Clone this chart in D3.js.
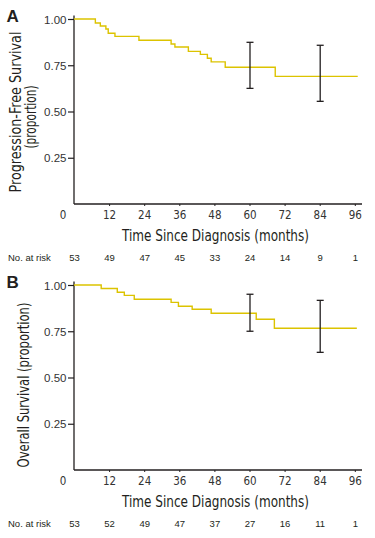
<!DOCTYPE html>
<html>
<head>
<meta charset="utf-8">
<script src="https://cdn.jsdelivr.net/npm/d3@7"></script>
<style>
  body { margin: 0; background: #fff; }
  svg text { font-family: "Liberation Sans Narrow", "DejaVu Sans Condensed", "Liberation Sans", sans-serif; }
</style>
</head>
<body>
<div id="chart"></div>
<script>
//////////
// DATA //
//////////

var riskMonths = [0, 12, 24, 36, 48, 60, 72, 84, 96];
var xTicks = [12, 24, 36, 48, 60, 72, 84, 96];
var yTicks = [0.25, 0.50, 0.75, 1.00];

// progression-free survival, step times (months) and levels
var pfsTimes = [0, 7.3, 9.0, 10.9, 11.7, 14.0, 22.2, 33.2, 34.5, 39.1, 43.2, 45.6, 46.9, 51.7, 68.8, 97.0];
var pfsSurv  = [1, 0.978, 0.962, 0.946, 0.923, 0.906, 0.885, 0.865, 0.849, 0.825, 0.809, 0.788, 0.768, 0.739, 0.690, 0.690];
var pfsCiMonths = [60, 84];
var pfsCiLow  = [0.625, 0.555];
var pfsCiHigh = [0.874, 0.858];
var pfsAtRisk = [53, 49, 47, 45, 33, 24, 14, 9, 1];

// overall survival
var osTimes = [0, 9.3, 14.8, 17.2, 20.6, 33.2, 35.7, 40.4, 46.9, 62.3, 68.5, 96.7];
var osSurv  = [1, 0.981, 0.961, 0.944, 0.923, 0.906, 0.885, 0.869, 0.847, 0.815, 0.766, 0.766];
var osCiMonths = [60, 84];
var osCiLow  = [0.750, 0.636];
var osCiHigh = [0.950, 0.917];
var osAtRisk = [53, 52, 49, 47, 37, 27, 16, 11, 1];

//////////////////////////////
// SVG AND GRAPH DIMENSIONS //
//////////////////////////////

var svgWidth = 375, svgHeight = 538;
var margin = { left: 74 };
var width = 288, height = 185;

var svg = d3.select("#chart").append("svg")
  .attr("width", svgWidth)
  .attr("height", svgHeight);

var x = d3.scaleLinear().domain([0, 96]).range([0, 280.8]);
var y = d3.scaleLinear().domain([0, 1]).range([height, 0]);

var curveColor = "#dcc300";
var inkColor = "#231f20";

var drawPanel = function(opts) {
  var g = svg.append("g")
    .attr("transform", "translate(" + margin.left + "," + opts.top + ")");

  // panel letter
  svg.append("text")
    .attr("x", 6.5)
    .attr("y", opts.top + 3)
    .style("font-family", "'Liberation Sans', Arial, sans-serif")
    .style("font-weight", "bold")
    .style("font-size", "17px")
    .attr("fill", inkColor)
    .text(opts.letter);

  // y axis
  var yAxis = d3.axisLeft(y).tickValues(yTicks).tickSize(6).tickFormat(d3.format(".2f"));
  var gy = g.append("g").call(yAxis);
  gy.select(".domain").remove();
  gy.selectAll(".tick line").attr("stroke", inkColor).attr("stroke-width", 1.2);
  gy.selectAll(".tick text")
    .attr("x", -7.5)
    .attr("dy", "0.35em")
    .style("font-family", "'Liberation Sans', Arial, sans-serif")
    .style("font-size", "11.5px")
    .attr("fill", "#333");
  g.append("line")
    .attr("x1", 0).attr("x2", 0)
    .attr("y1", -3.5).attr("y2", height)
    .attr("stroke", inkColor).attr("stroke-width", 1.3);

  // x axis
  var xAxis = d3.axisBottom(x).tickValues(xTicks).tickSize(2).tickSizeOuter(0);
  var gx = g.append("g")
    .attr("transform", "translate(0," + height + ")")
    .call(xAxis);
  gx.select(".domain").remove();
  gx.selectAll(".tick line").attr("stroke", inkColor).attr("stroke-width", 1);
  gx.selectAll(".tick text")
    .attr("y", 11)
    .attr("dy", "0.32em")
    .style("font-size", "11.5px")
    .attr("fill", "#333");
  gx.append("text")
    .attr("x", -11)
    .attr("y", 11)
    .attr("dy", "0.32em")
    .attr("text-anchor", "middle")
    .style("font-size", "11.5px")
    .attr("fill", "#333")
    .text("0");
  g.append("line")
    .attr("x1", 0).attr("x2", width)
    .attr("y1", height).attr("y2", height)
    .attr("stroke", inkColor).attr("stroke-width", 1.3);

  // axis titles
  g.append("text")
    .attr("x", 141.5)
    .attr("y", height + 37)
    .attr("text-anchor", "middle")
    .attr("textLength", 187)
    .attr("lengthAdjust", "spacingAndGlyphs")
    .style("font-size", "15.5px")
    .attr("fill", inkColor)
    .text("Time Since Diagnosis (months)");

  opts.yTitle.forEach(function(line, i) {
    svg.append("text")
      .attr("transform", "translate(" + line.x + "," + (opts.top + line.cy) + ") rotate(-90)")
      .attr("text-anchor", "middle")
      .attr("textLength", line.len)
      .attr("lengthAdjust", "spacingAndGlyphs")
      .style("font-size", "15.5px")
      .attr("fill", inkColor)
      .text(line.text);
  });

  // number at risk row
  svg.append("text")
    .attr("x", 8)
    .attr("y", opts.top + height + 57)
    .style("font-family", "'Liberation Sans', Arial, sans-serif")
    .style("font-size", "9.5px")
    .attr("fill", inkColor)
    .text("No. at risk");

  g.selectAll(".risk")
    .data(opts.atRisk)
    .enter().append("text")
    .attr("class", "risk")
    .attr("x", function(d, i) { return x(riskMonths[i]) + 0.5; })
    .attr("y", height + 57)
    .attr("text-anchor", "middle")
    .style("font-family", "'Liberation Sans', Arial, sans-serif")
    .style("font-size", "9.5px")
    .attr("fill", inkColor)
    .text(function(d) { return d; });

  // survival curve
  var pts = opts.times.map(function(t, i) { return [t, opts.surv[i]]; });
  var line = d3.line()
    .x(function(d) { return x(d[0]); })
    .y(function(d) { return y(d[1]); })
    .curve(d3.curveStepAfter);

  g.append("path")
    .datum(pts)
    .attr("d", line)
    .attr("fill", "none")
    .attr("stroke", curveColor)
    .attr("stroke-width", 1.4);

  // confidence bars
  var ci = g.selectAll(".ci")
    .data(opts.ciMonths)
    .enter().append("g")
    .attr("class", "ci")
    .attr("stroke", inkColor)
    .attr("stroke-width", 1.3);

  ci.append("line")
    .attr("x1", function(d) { return x(d) + 0.5; })
    .attr("x2", function(d) { return x(d) + 0.5; })
    .attr("y1", function(d, i) { return y(opts.ciHigh[i]); })
    .attr("y2", function(d, i) { return y(opts.ciLow[i]); });
  ci.append("line")
    .attr("x1", function(d) { return x(d) - 3; })
    .attr("x2", function(d) { return x(d) + 4; })
    .attr("y1", function(d, i) { return y(opts.ciHigh[i]); })
    .attr("y2", function(d, i) { return y(opts.ciHigh[i]); });
  ci.append("line")
    .attr("x1", function(d) { return x(d) - 3; })
    .attr("x2", function(d) { return x(d) + 4; })
    .attr("y1", function(d, i) { return y(opts.ciLow[i]); })
    .attr("y2", function(d, i) { return y(opts.ciLow[i]); });
};

drawPanel({
  letter: "A", top: 19,
  times: pfsTimes, surv: pfsSurv,
  ciMonths: pfsCiMonths, ciLow: pfsCiLow, ciHigh: pfsCiHigh,
  atRisk: pfsAtRisk,
  yTitle: [
    { text: "Progression-Free Survival", x: 21, cy: 93, len: 161 },
    { text: "(proportion)", x: 35.5, cy: 98, len: 63 }
  ]
});

drawPanel({
  letter: "B", top: 285,
  times: osTimes, surv: osSurv,
  ciMonths: osCiMonths, ciLow: osCiLow, ciHigh: osCiHigh,
  atRisk: osAtRisk,
  yTitle: [
    { text: "Overall Survival (proportion)", x: 28.5, cy: 100, len: 165 }
  ]
});
</script>
</body>
</html>
